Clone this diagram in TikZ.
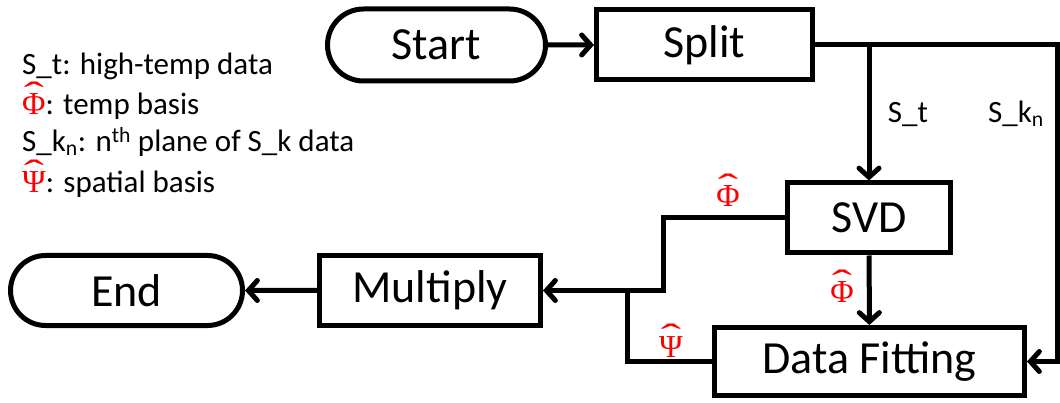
\documentclass[tikz,border=0pt]{standalone}
\usepackage{graphicx}
\usepackage{fontspec}
\setmainfont{Carlito}
\newfontfamily\greekserif{Liberation Serif}
\usetikzlibrary{arrows.meta,shapes.misc}
% red hatted Greek capitals used as signal names
\newcommand{\hatsym}[1]{\textcolor{red}{\fontsize{32}{34}\greekserif\selectfont
  \ooalign{#1\cr\hidewidth\raisebox{0.27em}{\scalebox{1.9}[1.1]{ˆ}}\hidewidth\cr}}}
\begin{document}
\begin{tikzpicture}[x=1pt,y=-1pt,
  box/.style={draw, line width=5pt, rectangle, inner sep=0pt, minimum height=70pt, font=\fontsize{46}{50}\selectfont},
  term/.style={box, rounded rectangle},
  conn/.style={line width=5pt},
  arr/.style={conn, -{Straight Barb[length=9pt,width=20pt,line cap=round]}},
  lab/.style={font=\fontsize{31}{36}\selectfont, inner sep=0pt},
  sym/.style={inner sep=0pt}]
\useasboundingbox (0,0) rectangle (1060,403);

% process nodes
\node[term, minimum width=218pt, minimum height=72pt] (start) at (436.5,45) {Start};
\node[box, minimum width=216pt] (split) at (704.5,45) {Split};
\node[box, minimum width=163pt] (svd) at (869,218) {SVD};
\node[box, minimum width=310pt, minimum height=68pt] (fit) at (869.5,361.5) {Data Fitting};
\node[box, minimum width=221pt] (mult) at (430,290.5) {Multiply};
\node[term, minimum width=232pt] (end) at (126.5,290.5) {End};

% branch points
\coordinate (jr) at (1057.5,45);
\coordinate (jb) at (663,218);
\coordinate (jp) at (627,290.5);

% connectors
\draw[arr] (start) -- (split);
\draw[arr] (split.east) -- (jr) |- (fit.east);
\draw[arr] (split.east -| svd.north) -- (svd.north);
\draw[arr] (svd) -- (fit);
\draw[arr] (svd.west) -- (jb) |- (mult.east);
\draw[conn] (jp) |- (fit.west);
\draw[arr] (mult) -- (end);

% edge labels
\node[lab, anchor=base] (lst) at (908,123) {S\_t};
\node[lab, anchor=base] (lsk) at (1016,123) {S\_k\textsubscript{n}};
\node[sym, anchor=base] (phi1) at (728,207) {\hatsym{Φ}};
\node[sym, anchor=base] (phi2) at (842,303) {\hatsym{Φ}};
\node[sym, anchor=base] (psi) at (671,357) {\hatsym{Ψ}};

% legend
\node[lab, anchor=base west] (k1) at (22,75) {S\_t: high-temp data};
\node[lab, anchor=base west] (k2) at (22,115) {\hatsym{Φ}: temp basis};
\node[lab, anchor=base west] (k3) at (22,152) {S\_k\textsubscript{n}: n\textsuperscript{th} plane of S\_k data};
\node[lab, anchor=base west] (k4) at (22,193) {\hatsym{Ψ}: spatial basis};
\end{tikzpicture}
\end{document}
